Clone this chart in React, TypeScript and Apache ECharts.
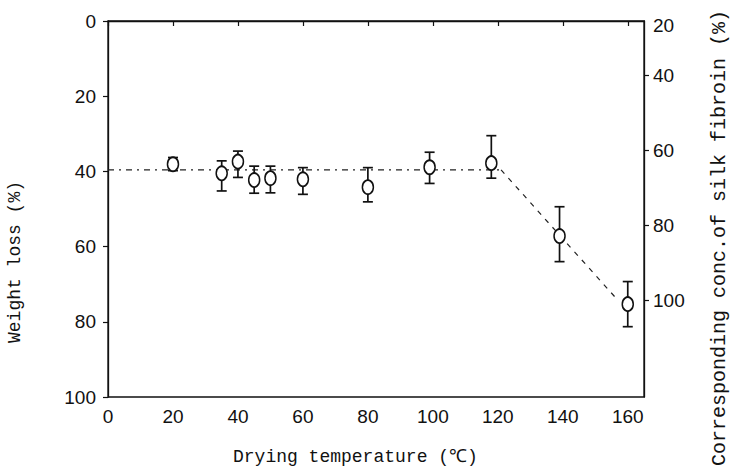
import React, { useEffect, useRef } from "react";
import * as echarts from "echarts";

// Drying temperature (°C)
const temps = [20, 35, 40, 45, 50, 60, 80, 99, 118, 139, 160];
// Weight loss (%) mean values
const weightLoss = [38.1, 40.5, 37.4, 42.3, 41.8, 42.1, 44.2, 38.9, 37.8, 57.2, 75.3];
// Error bar ends (upper end = smaller value, lower end = larger value on the inverted axis)
const errTop = [36.3, 37.2, 34.6, 38.6, 38.6, 39.0, 39.0, 34.9, 30.5, 49.4, 69.3];
const errBottom = [39.8, 45.2, 41.6, 45.8, 45.7, 46.1, 48.1, 43.2, 41.8, 64.0, 81.3];

// Guide lines
const fitFlatX = [0, 121];
const fitFlatY = [39.6, 39.6];
const fitSlopeX = [121, 157];
const fitSlopeY = [39.6, 74.3];

// Axis ticks
const xTicks = [0, 20, 40, 60, 80, 100, 120, 140, 160];
const rightTickValues = [40, 60, 80, 100];
const rightLabelValues = [26.8, 40, 60, 80, 100];
const rightLabelTexts = ["20", "40", "60", "80", "100"];

const titleX = "Drying temperature (\u2103)";
const titleYLeft = "Weight loss (%)";
const titleYRight = "Corresponding conc.of silk fibroin (%)";

export default function App() {
  const ref = useRef<HTMLDivElement>(null);
  useEffect(() => {
    if (!ref.current) return;
    const chart = echarts.init(ref.current, null, { renderer: "svg" });
    const tickFont = {
      fontFamily: "Liberation Sans",
      fontSize: 19,
      color: "#111",
    };
    const monoFont = "Liberation Mono";
    const ink = "#111";
    chart.setOption({
      animation: false,
      backgroundColor: "#fff",
      grid: {
        left: 108,
        right: 94,
        top: 21,
        bottom: 79,
        show: true,
        borderColor: ink,
        borderWidth: 1.3,
        backgroundColor: "transparent",
      },
      xAxis: {
        type: "value",
        min: 0,
        max: 165,
        splitLine: { show: false },
        axisLine: { show: true, lineStyle: { color: ink, width: 1.3 } },
        axisTick: {
          show: true,
          inside: false,
          length: 5,
          customValues: xTicks,
          lineStyle: { color: ink, width: 1.2 },
        },
        axisLabel: {
          ...tickFont,
          margin: 10,
          customValues: xTicks,
        },
      },
      yAxis: [
        {
          type: "value",
          min: 0,
          max: 100,
          interval: 20,
          inverse: true,
          splitLine: { show: false },
          axisLine: { show: true, lineStyle: { color: ink, width: 1.3 } },
          axisTick: { show: true, length: 5, lineStyle: { color: ink, width: 1.2 } },
          axisLabel: { ...tickFont, margin: 12 },
        },
        {
          type: "value",
          position: "right",
          min: 25.6,
          max: 125.6,
          inverse: true,
          splitLine: { show: false },
          axisLine: { show: true, lineStyle: { color: ink, width: 1.3 } },
          axisTick: {
            show: true,
            length: 5,
            customValues: rightTickValues,
            lineStyle: { color: ink, width: 1.2 },
          },
          axisLabel: {
            ...tickFont,
            margin: 9,
            customValues: rightLabelValues,
            formatter: (v: number) => {
              const i = rightLabelValues.indexOf(v);
              return i >= 0 ? rightLabelTexts[i] : "";
            },
          },
        },
      ],
      graphic: [
        {
          type: "text",
          left: 233,
          top: 448,
          style: {
            text: titleX,
            font: `18px "${monoFont}"`,
            fill: ink,
          },
        },
        {
          type: "text",
          x: 15,
          y: 262,
          rotation: Math.PI / 2,
          style: {
            text: titleYLeft,
            font: `18px "${monoFont}"`,
            fill: ink,
            align: "center",
            verticalAlign: "middle",
          },
        },
        {
          type: "text",
          x: 719,
          y: 238,
          rotation: Math.PI / 2,
          style: {
            text: titleYRight,
            font: `20px "${monoFont}"`,
            fill: ink,
            align: "center",
            verticalAlign: "middle",
          },
        },
      ],
      series: [
        {
          type: "line",
          data: fitFlatX.map((x, i) => [x, fitFlatY[i]]),
          showSymbol: false,
          symbol: "none",
          lineStyle: { color: "#222", width: 1.2, type: [6, 5, 2, 5] },
          z: 1,
        },
        {
          type: "line",
          data: fitSlopeX.map((x, i) => [x, fitSlopeY[i]]),
          showSymbol: false,
          symbol: "none",
          lineStyle: { color: "#222", width: 1.2, type: [5, 6] },
          z: 1,
        },
        {
          type: "custom",
          data: temps.map((t, i) => [t, errTop[i], errBottom[i]]),
          encode: { x: 0, y: [1, 2] },
          z: 2,
          renderItem: (params: any, api: any) => {
            const x = api.value(0);
            const a = api.coord([x, api.value(1)]);
            const b = api.coord([x, api.value(2)]);
            const cap = 5;
            const style = { stroke: ink, lineWidth: 1.7 };
            return {
              type: "group",
              children: [
                { type: "line", shape: { x1: a[0], y1: a[1], x2: b[0], y2: b[1] }, style },
                { type: "line", shape: { x1: a[0] - cap, y1: a[1], x2: a[0] + cap, y2: a[1] }, style },
                { type: "line", shape: { x1: b[0] - cap, y1: b[1], x2: b[0] + cap, y2: b[1] }, style },
              ],
            };
          },
        },
        {
          type: "scatter",
          data: temps.map((t, i) => [t, weightLoss[i]]),
          symbol: "circle",
          symbolSize: [11, 14],
          itemStyle: { color: "#fff", borderColor: ink, borderWidth: 1.7, opacity: 1 },
          z: 3,
        },
      ],
    });
    return () => chart.dispose();
  }, []);
  return (
    <div
      ref={ref}
      style={{ position: "fixed", left: 0, top: 0, width: 738, height: 476, background: "#fff" }}
    />
  );
}
